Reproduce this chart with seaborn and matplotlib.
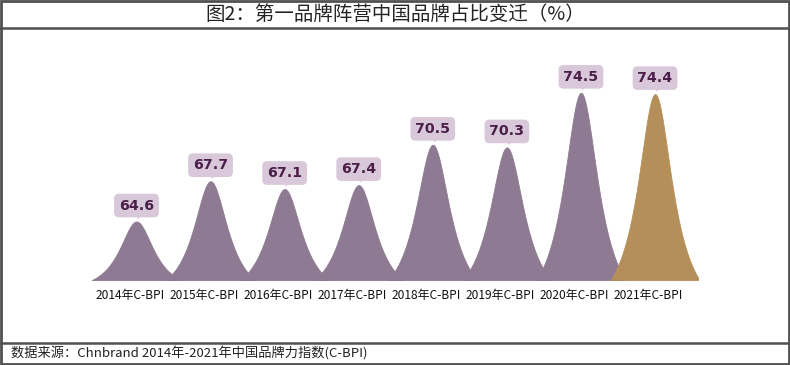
import numpy as np
import pandas as pd
import matplotlib
matplotlib.use("Agg")
import matplotlib.pyplot as plt
import matplotlib.transforms as mtransforms
from matplotlib.patches import Polygon, Rectangle
from matplotlib.lines import Line2D
import seaborn as sns

# data
years = ["2014年C-BPI", "2015年C-BPI", "2016年C-BPI", "2017年C-BPI",
         "2018年C-BPI", "2019年C-BPI", "2020年C-BPI", "2021年C-BPI"]
share = [64.6, 67.7, 67.1, 67.4, 70.5, 70.3, 74.5, 74.4]
title = "图2：第一品牌阵营中国品牌占比变迁（%）"
source = "数据来源：Chnbrand 2014年-2021年中国品牌力指数(C-BPI)"

purple = "#8e7a92"
gold = "#b58f5a"
box_fc = "#d8c8da"
num_col = "#4b1f49"
frame_col = "#505050"

sns.set_theme(style="white")
plt.rcParams['font.family'] = ['Noto Sans CJK SC', 'DejaVu Sans']

fig = plt.figure(figsize=(7.9, 3.65), dpi=100)
W, H = 790, 365
base = 60.1
ax = fig.add_axes([92 / W, 85 / H, (698 - 92) / W, 240 / H])
ax.set_xlim(-0.6, len(years) - 1 + 0.58)
ax.set_ylim(base, base + 240 / 13.0)
ax.axis("off")

# peak shape (lorentzian cut at +-0.6)
g, cut = 0.29, 0.6
t = np.linspace(-cut, cut, 301)
L = 1 / (1 + (t / g) ** 2)
shape = (L - L[0]) / (1 - L[0])

rows = []
for i, (yr, v) in enumerate(zip(years, share)):
    for tt, s in zip(t, shape):
        rows.append({"x": i + tt, "y": base + (v - base) * s, "year": yr})
df = pd.DataFrame(rows)

last = len(years) - 1
for i, (yr, v) in enumerate(zip(years, share)):
    d = df[df["year"] == yr]
    col = gold if i == last else purple
    z = 3 if i == last else 2
    ax.fill_between(d["x"], base, d["y"], fc=col, ec=col, lw=0.6, zorder=z)

# value callouts
for i, v in enumerate(share):
    tr = mtransforms.Affine2D().scale(fig.dpi / 72) + mtransforms.ScaledTranslation(i, v, ax.transData)
    ax.add_patch(Polygon([(0.0, 6), (7, 6), (0.8, 1.8)], closed=True,
                         transform=tr, fc=box_fc, ec="none", clip_on=False, zorder=4))
    ax.annotate(f"{v}", xy=(i, v), xytext=(0, 11.5), textcoords="offset points",
                ha="center", va="center", fontsize=10.2, fontweight="bold",
                family="DejaVu Sans", color=num_col, zorder=5,
                bbox=dict(boxstyle="round,pad=0.34,rounding_size=0.35", fc=box_fc, ec="none"))

# category labels
for i, yr in enumerate(years):
    ax.text(i - 0.09, base - 9 / 13.0, yr, ha="center", va="top",
            fontsize=8.6, color="#111111",
            family=["Liberation Sans Narrow", "Noto Sans CJK SC"])

# frame, title and footer
fig.add_artist(Rectangle((1 / W, 1 / H), 1 - 2 / W, 1 - 2 / H, transform=fig.transFigure,
                         fill=False, ec=frame_col, lw=2))
fig.add_artist(Line2D([0, 1], [1 - 28 / H, 1 - 28 / H], transform=fig.transFigure,
                      color=frame_col, lw=1.8))
fig.add_artist(Line2D([0, 1], [1 - 343 / H, 1 - 343 / H], transform=fig.transFigure,
                      color=frame_col, lw=1.8))
fig.text(0.5, 1 - 14.5 / H, title, ha="center", va="center", fontsize=14, color="#222222")
fig.text(11 / W, 1 - 354 / H, source, ha="left", va="center", fontsize=9.5, color="#222222")

fig.savefig("out.png", dpi=100)
